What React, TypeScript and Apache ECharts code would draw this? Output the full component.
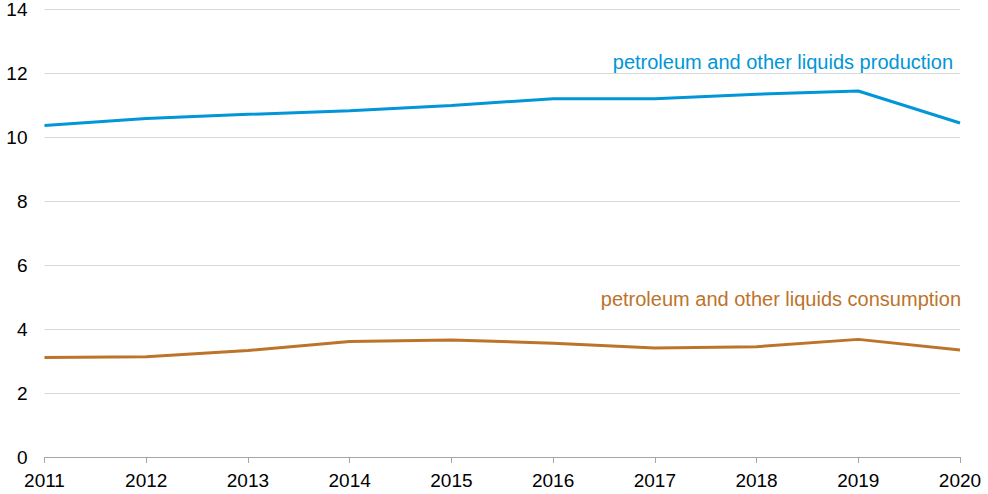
import React, { useEffect, useRef } from "react";
import * as echarts from "echarts";

const years = ["2011", "2012", "2013", "2014", "2015", "2016", "2017", "2018", "2019", "2020"];
const production = [10.37, 10.59, 10.72, 10.83, 11.0, 11.21, 11.21, 11.35, 11.45, 10.45];
const consumption = [3.11, 3.14, 3.33, 3.61, 3.66, 3.56, 3.41, 3.45, 3.68, 3.35];
const productionLabel = "petroleum and other liquids production";
const consumptionLabel = "petroleum and other liquids consumption";

const BLUE = "#0096d7";
const BROWN = "#bd732a";
const FONT = "'Liberation Sans', Arial, sans-serif";

export default function App() {
  const ref = useRef<HTMLDivElement>(null);
  useEffect(() => {
    document.body.style.margin = "0";
    const chart = echarts.init(ref.current!, null, { renderer: "svg" });
    chart.setOption({
      animation: false,
      grid: { left: 44.5, right: 28, top: 8, bottom: 37, containLabel: false },
      xAxis: {
        type: "category",
        data: years,
        boundaryGap: false,
        axisLine: { show: true, lineStyle: { color: "#a6a6a6", width: 1 } },
        axisTick: { show: true, alignWithLabel: true, length: 6, lineStyle: { color: "#a6a6a6" } },
        axisLabel: { color: "#000", fontSize: 19, fontFamily: FONT, margin: 14, interval: 0 },
        splitLine: { show: false },
      },
      yAxis: {
        type: "value",
        min: 0,
        max: 14,
        interval: 2,
        axisLine: { show: false },
        axisTick: { show: false },
        axisLabel: { color: "#000", fontSize: 19, fontFamily: FONT, margin: 17 },
        splitLine: { lineStyle: { color: "#d9d9d9", width: 1 } },
      },
      series: [
        {
          type: "line",
          name: productionLabel,
          data: production,
          symbol: "none",
          lineStyle: { color: BLUE, width: 3 },
          itemStyle: { color: BLUE },
        },
        {
          type: "line",
          name: consumptionLabel,
          data: consumption,
          symbol: "none",
          lineStyle: { color: BROWN, width: 3 },
          itemStyle: { color: BROWN },
        },
      ],
      graphic: [
        {
          type: "text",
          right: 35,
          top: 52,
          style: { text: productionLabel, fill: BLUE, fontSize: 20, fontFamily: FONT },
        },
        {
          type: "text",
          right: 27,
          top: 289,
          style: { text: consumptionLabel, fill: BROWN, fontSize: 20, fontFamily: FONT },
        },
      ],
    });
    return () => chart.dispose();
  }, []);
  return <div ref={ref} style={{ position: "absolute", left: 0, top: 0, width: 988, height: 494 }} />;
}
